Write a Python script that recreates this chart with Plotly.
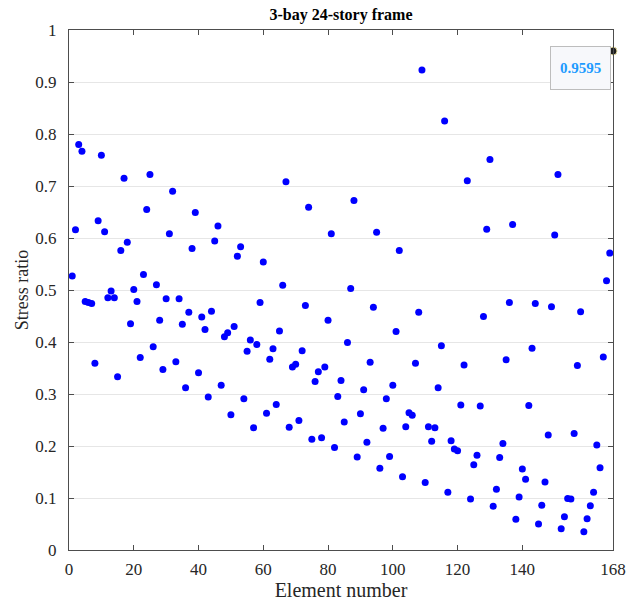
import plotly.graph_objects as go

elements = list(range(1, 168))
stress_ratio = [
    0.527, 0.616, 0.780, 0.767, 0.478, 0.476, 0.474, 0.359, 0.633, 0.759,
    0.612, 0.485, 0.498, 0.485, 0.333, 0.576, 0.715, 0.592, 0.435, 0.501,
    0.478, 0.370, 0.530, 0.655, 0.722, 0.391, 0.510, 0.442, 0.347, 0.483,
    0.608, 0.690, 0.362, 0.483, 0.434, 0.312, 0.457, 0.580, 0.649, 0.341,
    0.448, 0.424, 0.294, 0.459, 0.594, 0.623, 0.317, 0.410, 0.418, 0.260,
    0.430, 0.565, 0.583, 0.291, 0.382, 0.404, 0.235, 0.395, 0.476, 0.554,
    0.263, 0.367, 0.387, 0.280, 0.421, 0.509, 0.708, 0.236, 0.352, 0.357,
    0.249, 0.383, 0.470, 0.659, 0.213, 0.324, 0.343, 0.216, 0.352, 0.442,
    0.608, 0.197, 0.295, 0.326, 0.246, 0.399, 0.503, 0.672, 0.179, 0.262,
    0.308, 0.207, 0.361, 0.467, 0.611, 0.157, 0.234, 0.291, 0.180, 0.317,
    0.420, 0.576, 0.141, 0.237, 0.264, 0.259, 0.359, 0.457, 0.923, 0.130,
    0.237, 0.209, 0.235, 0.312, 0.393, 0.825, 0.111, 0.210, 0.194, 0.191,
    0.279, 0.356, 0.710, 0.098, 0.164, 0.182, 0.277, 0.449, 0.617, 0.751,
    0.084, 0.117, 0.178, 0.205, 0.366, 0.476, 0.626, 0.059, 0.102, 0.156,
    0.136, 0.278, 0.388, 0.474, 0.050, 0.086, 0.131, 0.221, 0.468, 0.606,
    0.722, 0.041, 0.064, 0.099, 0.098, 0.224, 0.355, 0.458, 0.035, 0.060,
    0.085, 0.111, 0.202, 0.158, 0.371, 0.518, 0.571,
]
tip_element = [168]
tip_value = [0.9595]

x_ticks = [0, 20, 40, 60, 80, 100, 120, 140, 168]

font_family = "Liberation Serif"
axis_color = "#4d4d4d"

fig = go.Figure()
fig.add_trace(go.Scatter(
    x=elements, y=stress_ratio, mode="markers",
    marker=dict(color="#0000ff", size=7, line=dict(width=0)),
    cliponaxis=False, showlegend=False,
))
fig.add_trace(go.Scatter(
    x=tip_element, y=tip_value, mode="markers",
    marker=dict(color="#1f1f1f", size=8, line=dict(color="#e6dca0", width=1)),
    cliponaxis=False, showlegend=False,
))

fig.add_annotation(
    x=tip_element[0], y=tip_value[0], xref="x", yref="y",
    text="<b>%.4f</b>" % tip_value[0], showarrow=False,
    xanchor="center", yanchor="middle", xshift=-33, yshift=-17,
    width=57, height=40, align="center", valign="middle",
    font=dict(family=font_family, size=15, color="#1e9bff"),
    bgcolor="#f7f8fb", bordercolor="#bdbdbd", borderwidth=1, borderpad=1,
)

fig.update_layout(
    width=638, height=606,
    margin=dict(l=69, r=25, t=30, b=56, autoexpand=False),
    paper_bgcolor="white", plot_bgcolor="white",
    font=dict(family=font_family, size=17, color="#262626"),
    title=dict(text="<b>3-bay 24-story frame</b>", x=(69 + 272) / 638, xanchor="center",
               y=1 - 14 / 606, yanchor="middle",
               font=dict(family=font_family, size=16, color="#000000")),
)
fig.update_xaxes(
    range=[0, 168], tickmode="array", tickvals=x_ticks,
    ticktext=[str(v) for v in x_ticks], tickangle=0, automargin=False,
    showgrid=False, zeroline=False, showline=True, linecolor=axis_color, linewidth=1,
    mirror="ticks", ticks="inside", ticklen=5, tickcolor=axis_color,
    ticklabelstandoff=4,
    tickfont=dict(family=font_family, size=17, color="#262626"),
    title=dict(text="Element number", standoff=4,
               font=dict(family=font_family, size=20, color="#262626")),
)
fig.update_yaxes(
    range=[0, 1], dtick=0.1, tick0=0, automargin=False,
    showgrid=True, gridcolor="#e6e6e6", gridwidth=1,
    zeroline=False, showline=True, linecolor=axis_color, linewidth=1,
    mirror="ticks", ticks="inside", ticklen=5, tickcolor=axis_color,
    ticklabelstandoff=8,
    tickfont=dict(family=font_family, size=17, color="#262626"),
    title=dict(text="Stress ratio", standoff=2,
               font=dict(family=font_family, size=18, color="#262626")),
)

fig.write_html("out.html")
